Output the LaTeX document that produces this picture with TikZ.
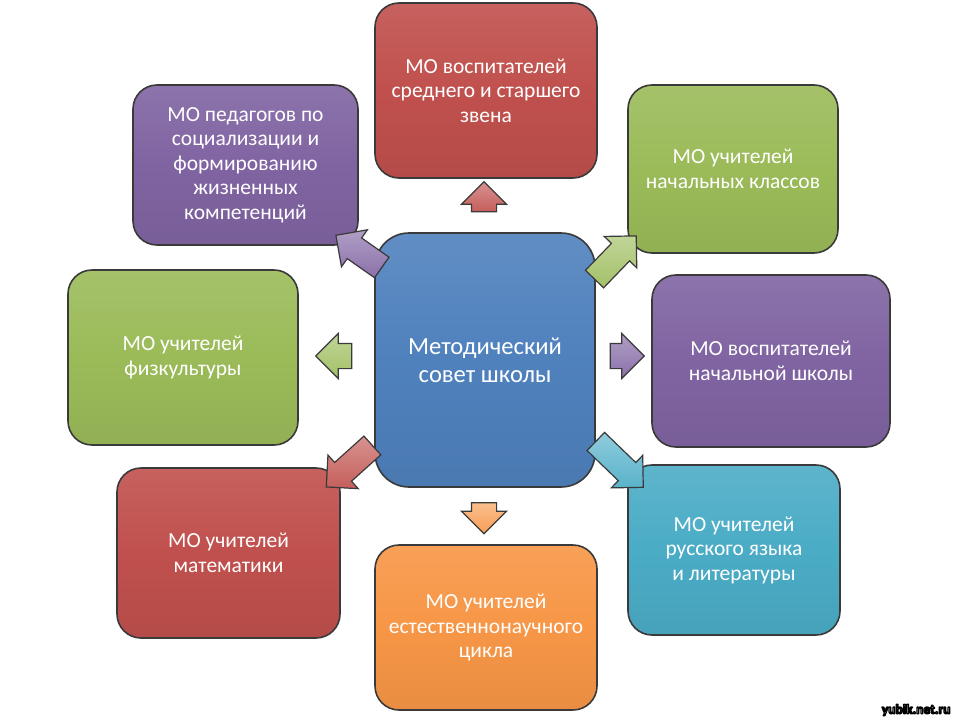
\documentclass[tikz,border=0pt]{standalone}
\usepackage{fontspec}
\setmainfont{Carlito}
\usetikzlibrary{shapes.arrows}
\definecolor{cRed}{HTML}{C0504D}
\definecolor{cPurple}{HTML}{8064A2}
\definecolor{cGreen}{HTML}{9BBB59}
\definecolor{cBlue}{HTML}{4F81BD}
\definecolor{cOrange}{HTML}{F79646}
\definecolor{cCyan}{HTML}{4BACC6}
\definecolor{cEdge}{HTML}{3A3A3A}
\newcommand{\outlinetext}[1]{\textcolor{white}{\special{pdf:literal direct 2 Tr 0 G 1.3 w 1 j}#1\special{pdf:literal direct 0 Tr}}}
\tikzset{
  box/.style={draw=cEdge, line width=1.6pt, rounded corners=24pt,
    top color=#1!90!white, bottom color=#1!94!black, middle color=#1,
    text=white, align=center, inner sep=4pt,
    font=\fontsize{21.5}{24.5}\selectfont},
  hub/.style={box=#1, rounded corners=34pt, font=\fontsize{24.6}{28}\selectfont},
  blk/.style={single arrow, draw=cEdge, line width=1.2pt,
    top color=#1!62!white, bottom color=#1!92!white,
    inner xsep=0pt, inner ysep=12pt, single arrow head extend=10pt,
    single arrow tip angle=90},
}
\begin{document}
\begin{tikzpicture}[x=1pt,y=-1pt]
\useasboundingbox[fill=white] (0,0) rectangle (960,720);

\node[hub=cBlue, minimum width=220pt, minimum height=254pt] (hub) at (485,360)
  {Методический\\совет школы};

\node[box=cRed, minimum width=222pt, minimum height=175pt] (top) at (486,90.5)
  {МО воспитателей\\среднего и старшего\\звена};
\node[box=cPurple, minimum width=225pt, minimum height=160pt] (tl) at (245.5,165)
  {МО педагогов по\\социализации и\\формированию\\жизненных\\компетенций};
\node[box=cGreen, minimum width=210pt, minimum height=168pt] (tr) at (733,169)
  {МО учителей\\начальных классов};
\node[box=cGreen, minimum width=230pt, minimum height=175pt] (left) at (183,357.5)
  {МО учителей\\физкультуры};
\node[box=cPurple, minimum width=238pt, minimum height=172pt] (right) at (771,361)
  {МО воспитателей\\начальной школы};
\node[box=cRed, minimum width=223pt, minimum height=170pt] (bl) at (228.5,553)
  {МО учителей\\математики};
\node[box=cOrange, minimum width=222pt, minimum height=165pt] (bot) at (486,627.5)
  {МО учителей\\естественнонаучного\\цикла};
\node[box=cCyan, minimum width=212pt, minimum height=170pt] (br) at (734,550)
  {МО учителей\\русского языка\\и литературы};

% block arrows from the hub to each box
\node[blk=cRed, minimum height=30pt, rotate=90] (aTop) at (484,203) {};
\node[blk=cPurple, minimum height=56pt, rotate=145] (aTl) at (364,255) {};
\node[blk=cGreen, minimum height=60pt, rotate=46] (aTr) at (611,262) {};
\node[blk=cGreen, minimum height=36pt, rotate=180] (aLeft) at (340,356) {};
\node[blk=cPurple, minimum height=34pt, rotate=0] (aRight) at (621,356) {};
\node[blk=cRed, minimum height=62pt, rotate=222] (aBl) at (354,462) {};
\node[blk=cCyan, minimum height=66pt, rotate=-44] (aBr) at (615,460) {};
\node[blk=cOrange, minimum height=31pt, rotate=-90] (aBot) at (484,512) {};

\node[font=\bfseries\fontsize{13.5}{13.5}\selectfont, anchor=east] (wm) at (954,710)
  {\outlinetext{yubik.net.ru}};
\end{tikzpicture}
\end{document}
